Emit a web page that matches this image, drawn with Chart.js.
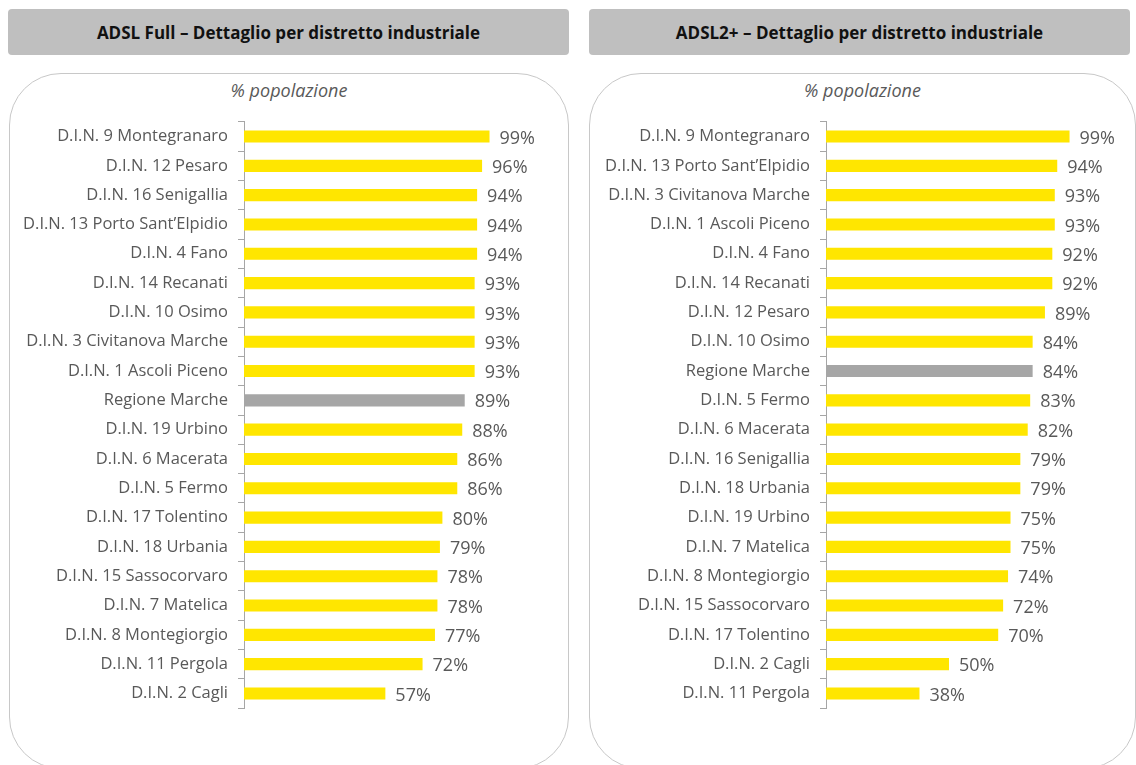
<!DOCTYPE html>
<html>
<head>
<meta charset="utf-8">
<script src="https://cdn.jsdelivr.net/npm/chart.js@4.4.1/dist/chart.umd.min.js"></script>
<style>
  body { margin: 0; width: 1136px; height: 765px; background: #fff; overflow: hidden; font-family: "Open Sans", sans-serif; position: relative; }
  .header { position: absolute; top: 9px; height: 46px; background: #bfbfbf; border-radius: 4px; font-weight: bold; font-size: 17px; color: #111; display: flex; align-items: center; justify-content: center; }
  .box { position: absolute; top: 73px; height: 696px; border: 1px solid #c8c8c8; border-radius: 52px; box-sizing: border-box; }
  .sub { position: absolute; top: 78px; font-style: italic; font-size: 18px; color: #595959; text-align: center; }
  .wrap { position: absolute; top: 102px; height: 626px; }
</style>
</head>
<body>
<div class="header" style="left:8px;width:561px;">ADSL Full – Dettaglio per distretto industriale</div>
<div class="header" style="left:589px;width:541px;">ADSL2+ – Dettaglio per distretto industriale</div>
<div class="box" style="left:9px;width:560px;"></div>
<div class="box" style="left:589px;width:547px;"></div>
<div class="sub" style="left:9px;width:560px;">% popolazione</div>
<div class="sub" style="left:589px;width:547px;">% popolazione</div>
<div class="wrap" style="left:9px;width:560px;"><canvas id="chartFull"></canvas></div>
<div class="wrap" style="left:590px;width:546px;"><canvas id="chartPlus"></canvas></div>
<script>
// ADSL Full
const labelsFull = [
  'D.I.N. 9 Montegranaro', 'D.I.N. 12 Pesaro', 'D.I.N. 16 Senigallia', 'D.I.N. 13 Porto Sant\u2019Elpidio',
  'D.I.N. 4 Fano', 'D.I.N. 14 Recanati', 'D.I.N. 10 Osimo', 'D.I.N. 3 Civitanova Marche',
  'D.I.N. 1 Ascoli Piceno', 'Regione Marche', 'D.I.N. 19 Urbino', 'D.I.N. 6 Macerata',
  'D.I.N. 5 Fermo', 'D.I.N. 17 Tolentino', 'D.I.N. 18 Urbania', 'D.I.N. 15 Sassocorvaro',
  'D.I.N. 7 Matelica', 'D.I.N. 8 Montegiorgio', 'D.I.N. 11 Pergola', 'D.I.N. 2 Cagli'
];
const valuesFull = [99, 96, 94, 94, 94, 93, 93, 93, 93, 89, 88, 86, 86, 80, 79, 78, 78, 77, 72, 57];

// ADSL2+
const labelsPlus = [
  'D.I.N. 9 Montegranaro', 'D.I.N. 13 Porto Sant\u2019Elpidio', 'D.I.N. 3 Civitanova Marche', 'D.I.N. 1 Ascoli Piceno',
  'D.I.N. 4 Fano', 'D.I.N. 14 Recanati', 'D.I.N. 12 Pesaro', 'D.I.N. 10 Osimo',
  'Regione Marche', 'D.I.N. 5 Fermo', 'D.I.N. 6 Macerata', 'D.I.N. 16 Senigallia',
  'D.I.N. 18 Urbania', 'D.I.N. 19 Urbino', 'D.I.N. 7 Matelica', 'D.I.N. 8 Montegiorgio',
  'D.I.N. 15 Sassocorvaro', 'D.I.N. 17 Tolentino', 'D.I.N. 2 Cagli', 'D.I.N. 11 Pergola'
];
const valuesPlus = [99, 94, 93, 93, 92, 92, 89, 84, 84, 83, 82, 79, 79, 75, 75, 74, 72, 70, 50, 38];

const YELLOW = '#ffe600';
const GREY = '#a6a6a6';
const TEXT = '#595959';
const FONT = '"Open Sans", sans-serif';

// draws "99%" after each bar
const valueLabels = {
  id: 'valueLabels',
  afterDatasetsDraw(chart) {
    const ctx = chart.ctx;
    const meta = chart.getDatasetMeta(0);
    ctx.save();
    ctx.font = '18px ' + FONT;
    ctx.fillStyle = TEXT;
    ctx.textAlign = 'left';
    ctx.textBaseline = 'middle';
    meta.data.forEach((bar, i) => {
      ctx.fillText(chart.data.datasets[0].data[i] + '%', bar.x + 10, bar.y + 2);
    });
    ctx.restore();
  }
};

function makeChart(id, labels, values, axisWidth, padRight) {
  const colors = labels.map(l => l === 'Regione Marche' ? GREY : YELLOW);
  return new Chart(document.getElementById(id), {
    type: 'bar',
    data: {
      labels: labels,
      datasets: [{
        data: values,
        backgroundColor: colors,
        borderWidth: 0,
        barPercentage: 0.9,
        categoryPercentage: 0.46
      }]
    },
    options: {
      indexAxis: 'y',
      responsive: true,
      maintainAspectRatio: false,
      animation: false,
      layout: { padding: { left: 0, right: padRight, top: 2, bottom: 4 } },
      plugins: { legend: { display: false }, tooltip: { enabled: false }, title: { display: false } },
      scales: {
        x: { display: false, min: 0, max: 100 },
        y: {
          afterFit(scale) { scale.width = axisWidth; },
          border: { display: true, color: GREY, width: 1 },
          grid: { drawOnChartArea: false, drawTicks: true, tickLength: 6, color: GREY, offset: true },
          ticks: { color: TEXT, font: { family: FONT, size: 16.5 }, padding: 10 }
        }
      }
    },
    plugins: [valueLabels]
  });
}

makeChart('chartFull', labelsFull, valuesFull, 235, 77);
makeChart('chartPlus', labelsPlus, valuesPlus, 236, 64);
</script>
</body>
</html>
